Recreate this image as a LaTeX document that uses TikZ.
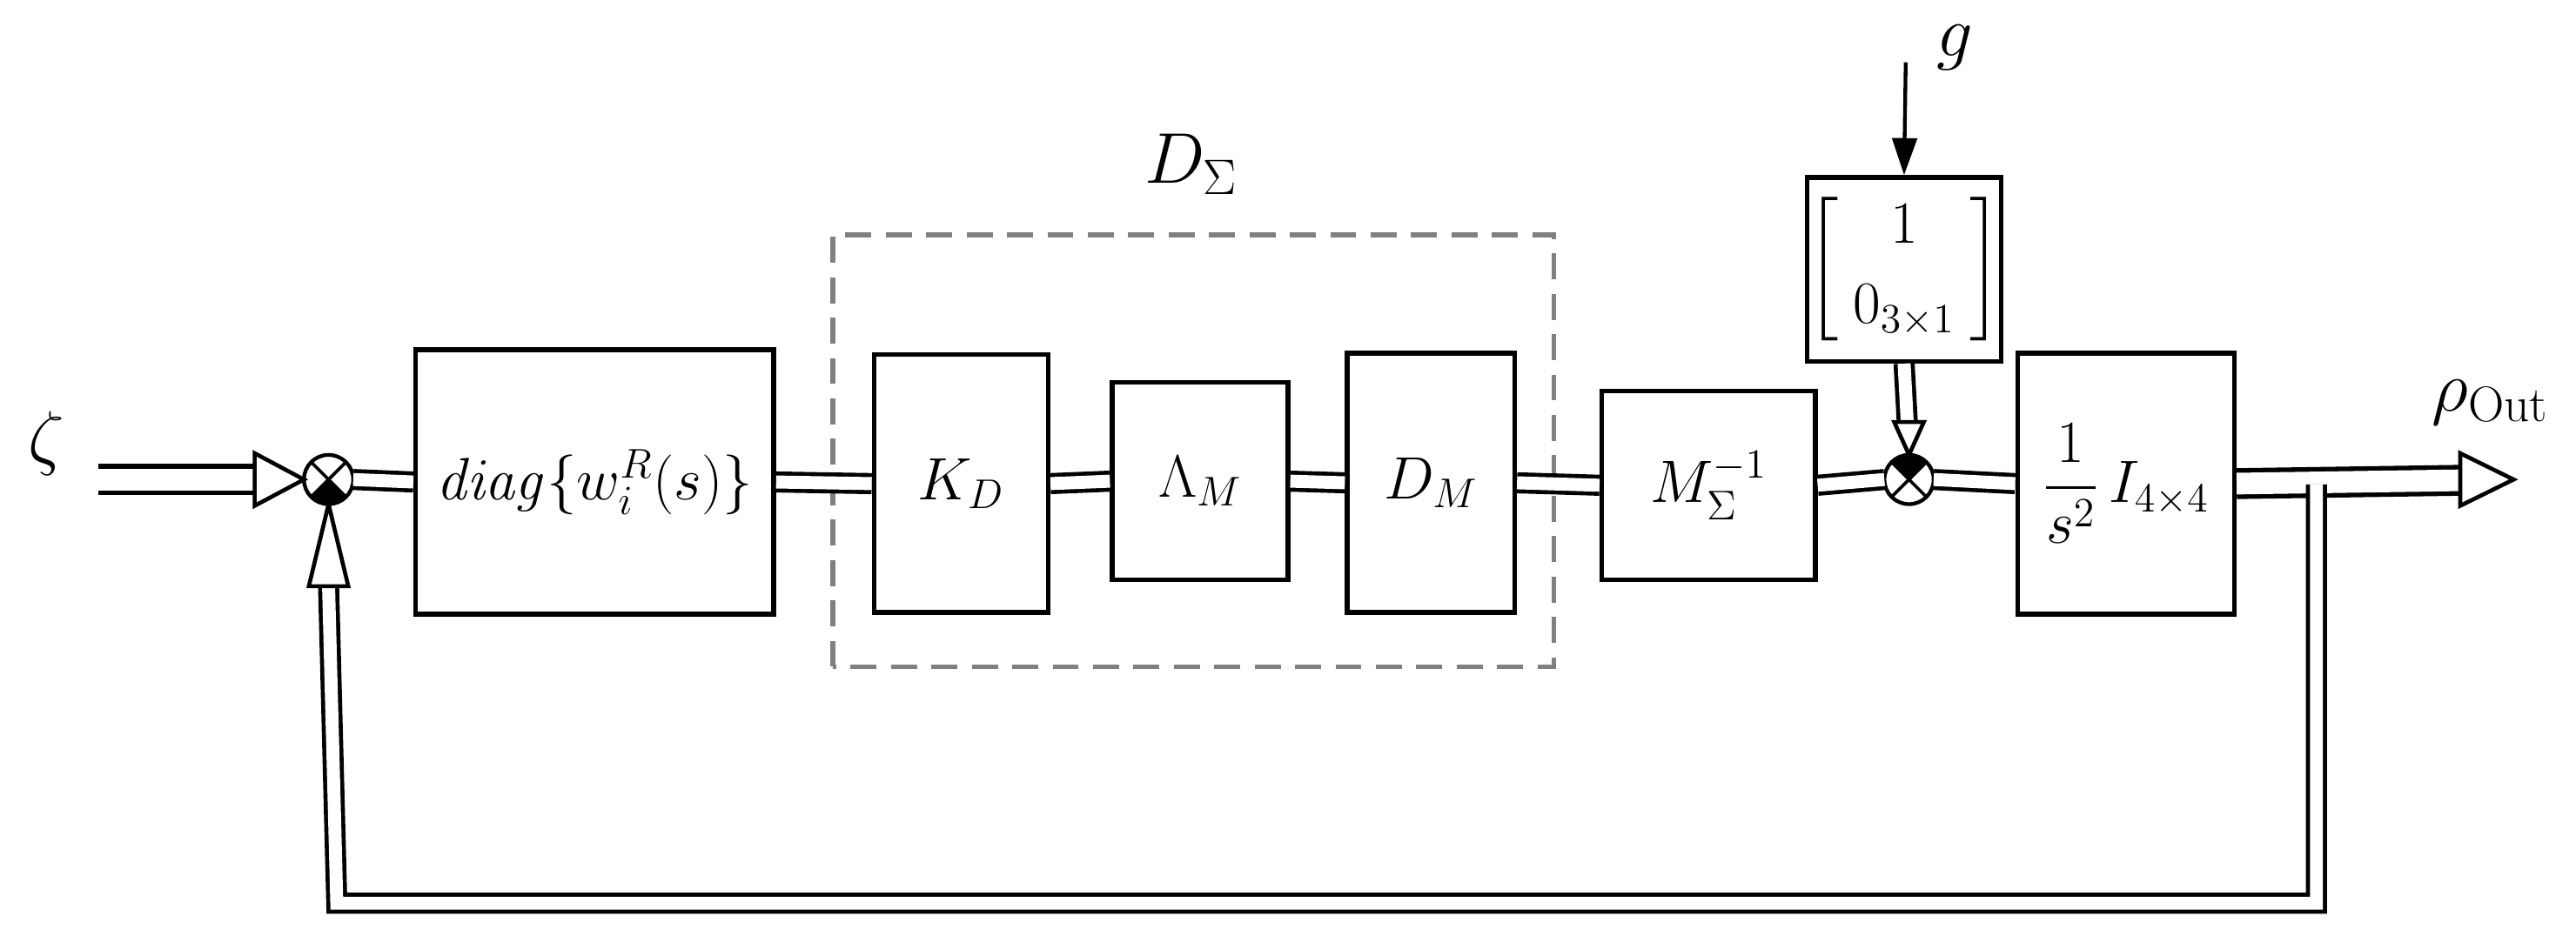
\documentclass[tikz,border=0pt]{standalone}
\usepackage{amsmath}
\usetikzlibrary{arrows.meta}
\begin{document}
\begin{tikzpicture}[x=0.02cm,y=0.02cm,
  blk/.style={draw,line width=1.6pt,inner sep=0pt,font=\fontsize{20}{24}\selectfont},
  sumj/.style={draw,circle,line width=1.3pt,minimum size=0.6cm,inner sep=0pt,outer sep=0pt},
  dl/.style={double,double distance=4.5pt,line width=1.4pt},
  dlw/.style={double,double distance=7.5pt,line width=1.6pt},
  tri/.style={draw,fill=white,line width=1.4pt,line join=miter},
  lbl/.style={font=\fontsize{24}{28}\selectfont,inner sep=0pt}]
\useasboundingbox (0,0) rectangle (1568,574);
% dashed group
\draw[gray,dashed,line width=1.6pt,dash pattern=on 9pt off 5pt] (507,168) rectangle (946,431);
\node[lbl] (dsig) at (725,474) {$D_\Sigma$};
% blocks
\node[blk,minimum width=218*0.02cm,minimum height=161*0.02cm] (diag) at (362,280.5) {$\mathit{diag}\{w_i^R(s)\}$};
\node[blk,minimum width=106*0.02cm,minimum height=157*0.02cm] (kd) at (585,279.5) {$K_D$};
\node[blk,minimum width=107*0.02cm,minimum height=120*0.02cm] (lm) at (730.5,281) {$\Lambda_M$};
\node[blk,minimum width=102*0.02cm,minimum height=158*0.02cm] (dm) at (871,280) {$D_M$};
\node[blk,minimum width=130*0.02cm,minimum height=115*0.02cm] (mi) at (1040,278.5) {$M_\Sigma^{-1}$};
\node[blk,minimum width=106*0.02cm,minimum height=112*0.02cm] (mat) at (1159,410) {$\left[\begin{array}{c}1\\[4pt] 0_{3\times1}\end{array}\right]$};
\node[blk,minimum width=132*0.02cm,minimum height=159*0.02cm] (integ) at (1294,279.5) {$\dfrac{1}{s^2}\,I_{4\times4}$};
% sum junctions
\node[sumj] (s1) at (200,282) {};
\fill (s1.center) -- (s1.225) arc[start angle=225,end angle=315,radius=0.3cm] -- cycle;
\draw[line width=1.1pt] (s1.45)--(s1.225) (s1.135)--(s1.315);
\node[sumj] (s2) at (1162,282) {};
\fill (s2.center) -- (s2.45) arc[start angle=45,end angle=135,radius=0.3cm] -- cycle;
\draw[line width=1.1pt] (s2.45)--(s2.225) (s2.135)--(s2.315);
% labels
\node[lbl] (zeta) at (28,304) {$\zeta$};
\node[lbl] (glab) at (1190,545) {$g$};
\node[lbl,anchor=west] (rho) at (1480,329) {$\rho_{\mathrm{Out}}$};
% coordinates
\coordinate (inS) at (60,282);
\coordinate (gS) at (1160,536);
\coordinate (outE) at (1530,282);
\coordinate (fbA) at (1410,279);
\coordinate (fbB) at (1410,24);
\coordinate (fbC) at (205,24);
% forward double lines
\draw[dl] (s1.east) -- (diag.west);
\draw[dl] (diag.east) -- (kd.west);
\draw[dl] (kd.east) -- (lm.west);
\draw[dl] (lm.east) -- (dm.west);
\draw[dl] (dm.east) -- (mi.west);
\draw[dl] (mi.east) -- (s2.west);
\draw[dl] (s2.east) -- (integ.west);
% input arrow
\draw[dlw,shorten >=0.55cm] (inS) -- (s1.west);
\draw[tri] ([xshift=-0.6cm,yshift=0.32cm]s1.west) -- (s1.west) -- ([xshift=-0.6cm,yshift=-0.32cm]s1.west) -- cycle;
% output arrow
\draw[dlw,shorten >=0.6cm] (integ.east) -- (outE);
% feedback
\draw[dl,line join=miter] (fbA) -- (fbB) -- (fbC) -- ([yshift=-1.0cm]s1.south);
\draw[tri] ([xshift=-0.65cm,yshift=0.32cm]outE) -- (outE) -- ([xshift=-0.65cm,yshift=-0.32cm]outE) -- cycle;
\draw[tri] ([xshift=-0.24cm,yshift=-1.0cm]s1.south) -- (s1.south) -- ([xshift=0.24cm,yshift=-1.0cm]s1.south) -- cycle;
% g arrow
\draw[line width=1.3pt,-{Triangle[length=0.45cm,width=0.3cm]}] (gS) -- (mat.north);
% matrix to s2
\draw[dl,shorten >=0.4cm] (mat.south) -- (s2.north);
\draw[tri] ([xshift=-0.18cm,yshift=0.4cm]s2.north) -- (s2.north) -- ([xshift=0.18cm,yshift=0.4cm]s2.north) -- cycle;
\end{tikzpicture}
\end{document}
